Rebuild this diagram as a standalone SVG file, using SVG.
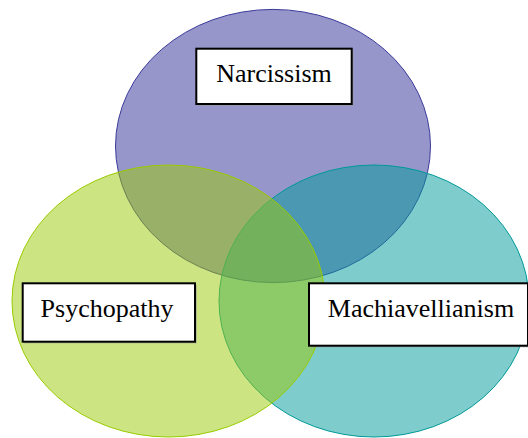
<svg xmlns="http://www.w3.org/2000/svg" width="528" height="438" viewBox="0 0 528 438">
<style>
.lbl{fill:#ffffff;stroke:#000000;stroke-width:2}
.shd{fill:#999999;opacity:0.6}
.txt{font-family:"Liberation Serif","Times New Roman",serif;font-size:26px;fill:#000000;text-anchor:middle}
</style>
<rect width="528" height="438" fill="#ffffff"/>
<g id="narcissism-circle">
<ellipse cx="273" cy="146" rx="157.5" ry="136.6" fill="#2d2d95" fill-opacity="0.5" stroke="#3a3a9a" stroke-width="1"/>
</g>
<g id="machiavellianism-circle">
<ellipse cx="374" cy="301" rx="155" ry="136" fill="#009999" fill-opacity="0.5" stroke="#009999" stroke-width="1"/>
</g>
<g id="psychopathy-circle">
<ellipse cx="168.5" cy="301" rx="156.5" ry="136" fill="#9bc905" fill-opacity="0.5" stroke="#99cc00" stroke-width="1"/>
</g>
<g id="narcissism">
<rect class="shd" x="198" y="50.5" width="155.4" height="55.3"/>
<rect class="lbl" x="196.3" y="48.7" width="155.4" height="55.3"/>
<text class="txt" x="274" y="82">Narcissism</text>
</g>
<g id="psychopathy">
<rect class="shd" x="24.5" y="285" width="172.3" height="58.4"/>
<rect class="lbl" x="22.7" y="283.3" width="172.3" height="58.4"/>
<text class="txt" x="107" y="316.7">Psychopathy</text>
</g>
<g id="machiavellianism">
<rect class="shd" x="311" y="285" width="219" height="62.4"/>
<rect class="lbl" x="309" y="283.3" width="219" height="62.4"/>
<text class="txt" x="421" y="316.7">Machiavellianism</text>
</g>
<g id="connectors"/>
</svg>
